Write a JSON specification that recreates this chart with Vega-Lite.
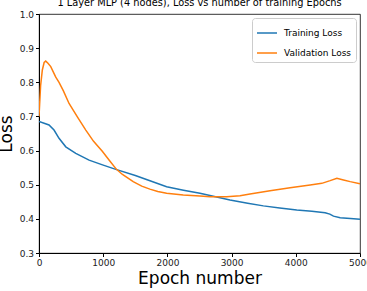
{
  "$schema": "https://vega.github.io/schema/vega-lite/v6.json",
  "width": 321,
  "height": 239,
  "autosize": {"type": "none"},
  "padding": {"left": 39, "top": 14, "right": 7, "bottom": 38},
  "background": "white",
  "title": {
    "text": "1 Layer MLP (4 nodes), Loss vs number of training Epochs",
    "font": "DejaVu Sans",
    "fontSize": 9.8,
    "fontWeight": "normal",
    "color": "#000",
    "anchor": "middle",
    "offset": 2
  },
  "config": {
    "view": {"stroke": "#000", "strokeWidth": 0.8},
    "font": "DejaVu Sans"
  },
  "data": {
    "values": [
      {"epoch": 0, "loss": 0.685, "series": "Training Loss"},
      {"epoch": 80, "loss": 0.68, "series": "Training Loss"},
      {"epoch": 156, "loss": 0.675, "series": "Training Loss"},
      {"epoch": 234, "loss": 0.66, "series": "Training Loss"},
      {"epoch": 312, "loss": 0.636, "series": "Training Loss"},
      {"epoch": 417, "loss": 0.611, "series": "Training Loss"},
      {"epoch": 573, "loss": 0.592, "series": "Training Loss"},
      {"epoch": 780, "loss": 0.572, "series": "Training Loss"},
      {"epoch": 989, "loss": 0.558, "series": "Training Loss"},
      {"epoch": 1197, "loss": 0.545, "series": "Training Loss"},
      {"epoch": 1500, "loss": 0.527, "series": "Training Loss"},
      {"epoch": 1750, "loss": 0.51, "series": "Training Loss"},
      {"epoch": 1988, "loss": 0.494, "series": "Training Loss"},
      {"epoch": 2250, "loss": 0.484, "series": "Training Loss"},
      {"epoch": 2507, "loss": 0.475, "series": "Training Loss"},
      {"epoch": 2750, "loss": 0.465, "series": "Training Loss"},
      {"epoch": 2975, "loss": 0.455, "series": "Training Loss"},
      {"epoch": 3250, "loss": 0.446, "series": "Training Loss"},
      {"epoch": 3495, "loss": 0.438, "series": "Training Loss"},
      {"epoch": 3750, "loss": 0.432, "series": "Training Loss"},
      {"epoch": 4015, "loss": 0.426, "series": "Training Loss"},
      {"epoch": 4250, "loss": 0.422, "series": "Training Loss"},
      {"epoch": 4457, "loss": 0.418, "series": "Training Loss"},
      {"epoch": 4530, "loss": 0.414, "series": "Training Loss"},
      {"epoch": 4587, "loss": 0.408, "series": "Training Loss"},
      {"epoch": 4691, "loss": 0.403, "series": "Training Loss"},
      {"epoch": 4850, "loss": 0.401, "series": "Training Loss"},
      {"epoch": 5000, "loss": 0.399, "series": "Training Loss"},
      {"epoch": 0, "loss": 0.7, "series": "Validation Loss"},
      {"epoch": 25, "loss": 0.79, "series": "Validation Loss"},
      {"epoch": 52, "loss": 0.836, "series": "Validation Loss"},
      {"epoch": 80, "loss": 0.858, "series": "Validation Loss"},
      {"epoch": 105, "loss": 0.862, "series": "Validation Loss"},
      {"epoch": 140, "loss": 0.856, "series": "Validation Loss"},
      {"epoch": 183, "loss": 0.846, "series": "Validation Loss"},
      {"epoch": 261, "loss": 0.815, "series": "Validation Loss"},
      {"epoch": 312, "loss": 0.8, "series": "Validation Loss"},
      {"epoch": 380, "loss": 0.775, "series": "Validation Loss"},
      {"epoch": 468, "loss": 0.738, "series": "Validation Loss"},
      {"epoch": 600, "loss": 0.698, "series": "Validation Loss"},
      {"epoch": 729, "loss": 0.66, "series": "Validation Loss"},
      {"epoch": 850, "loss": 0.627, "series": "Validation Loss"},
      {"epoch": 989, "loss": 0.597, "series": "Validation Loss"},
      {"epoch": 1100, "loss": 0.57, "series": "Validation Loss"},
      {"epoch": 1207, "loss": 0.545, "series": "Validation Loss"},
      {"epoch": 1300, "loss": 0.53, "series": "Validation Loss"},
      {"epoch": 1404, "loss": 0.517, "series": "Validation Loss"},
      {"epoch": 1467, "loss": 0.509, "series": "Validation Loss"},
      {"epoch": 1600, "loss": 0.496, "series": "Validation Loss"},
      {"epoch": 1727, "loss": 0.487, "series": "Validation Loss"},
      {"epoch": 1850, "loss": 0.48, "series": "Validation Loss"},
      {"epoch": 1988, "loss": 0.475, "series": "Validation Loss"},
      {"epoch": 2247, "loss": 0.47, "series": "Validation Loss"},
      {"epoch": 2507, "loss": 0.467, "series": "Validation Loss"},
      {"epoch": 2663, "loss": 0.465, "series": "Validation Loss"},
      {"epoch": 2923, "loss": 0.465, "series": "Validation Loss"},
      {"epoch": 3131, "loss": 0.468, "series": "Validation Loss"},
      {"epoch": 3287, "loss": 0.473, "series": "Validation Loss"},
      {"epoch": 3599, "loss": 0.482, "series": "Validation Loss"},
      {"epoch": 3911, "loss": 0.491, "series": "Validation Loss"},
      {"epoch": 4223, "loss": 0.499, "series": "Validation Loss"},
      {"epoch": 4405, "loss": 0.504, "series": "Validation Loss"},
      {"epoch": 4535, "loss": 0.512, "series": "Validation Loss"},
      {"epoch": 4640, "loss": 0.519, "series": "Validation Loss"},
      {"epoch": 4743, "loss": 0.514, "series": "Validation Loss"},
      {"epoch": 4847, "loss": 0.509, "series": "Validation Loss"},
      {"epoch": 5000, "loss": 0.503, "series": "Validation Loss"}
    ]
  },
  "mark": {"type": "line", "strokeWidth": 1.5, "clip": true},
  "encoding": {
    "x": {
      "field": "epoch",
      "type": "quantitative",
      "scale": {"domain": [0, 5000], "nice": false, "zero": false},
      "axis": {
        "title": "Epoch number",
        "titleFontSize": 17,
        "titleFontWeight": "normal",
        "titleColor": "#000",
        "titlePadding": 3,
        "values": [0, 1000, 2000, 3000, 4000, 5000],
        "format": "d",
        "labelFontSize": 9,
        "labelColor": "#222",
        "labelPadding": 2,
        "tickSize": 3.5,
        "tickColor": "#000",
        "domainColor": "#000",
        "grid": false,
        "labelFlush": false,
        "labelOverlap": false
      }
    },
    "y": {
      "field": "loss",
      "type": "quantitative",
      "scale": {"domain": [0.3, 1.0], "nice": false, "zero": false},
      "axis": {
        "title": "Loss",
        "titleFontSize": 17,
        "titleFontWeight": "normal",
        "titleColor": "#000",
        "titlePadding": 4,
        "values": [0.3, 0.4, 0.5, 0.6, 0.7, 0.8, 0.9, 1.0],
        "format": ".1f",
        "labelFontSize": 9,
        "labelColor": "#222",
        "labelPadding": 2,
        "tickSize": 3.5,
        "tickColor": "#000",
        "domainColor": "#000",
        "grid": false,
        "labelFlush": false,
        "labelOverlap": false
      }
    },
    "color": {
      "field": "series",
      "type": "nominal",
      "scale": {"domain": ["Training Loss", "Validation Loss"], "range": ["#1f77b4", "#ff7f0e"]},
      "legend": {
        "title": null,
        "orient": "top-right",
        "offset": 4,
        "symbolType": "stroke",
        "symbolSize": 400,
        "symbolStrokeWidth": 1.5,
        "labelFontSize": 9,
        "labelColor": "#000",
        "strokeColor": "#ccc",
        "fillColor": "white",
        "cornerRadius": 3,
        "padding": 4,
        "rowPadding": 4,
        "labelOffset": 6
      }
    }
  }
}
